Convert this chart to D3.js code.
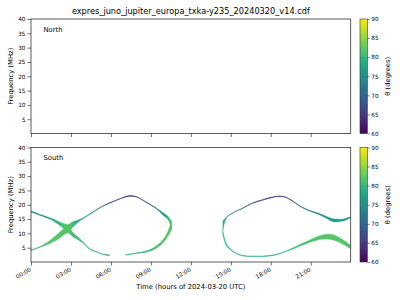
<!DOCTYPE html>
<html>
<head>
<meta charset="utf-8">
<script src="https://cdn.jsdelivr.net/npm/d3@7"></script>
<style>
  body { margin: 0; background: #fff; }
  svg { display: block; font-family: "DejaVu Sans", sans-serif; }
</style>
</head>
<body>
<svg id="chart" width="400" height="300"></svg>
<script>
// Chart text and ticks
const title = "expres_juno_jupiter_europa_txka-y235_20240320_v14.cdf";
const panelNames = ["North", "South"];
const freqTicks = [5, 10, 15, 20, 25, 30, 35, 40];
const hourTicks = [0, 3, 6, 9, 12, 15, 18, 21];
const hourLabels = ["00:00", "03:00", "06:00", "09:00", "12:00", "15:00", "18:00", "21:00"];
const thetaTicks = [60, 65, 70, 75, 80, 85, 90];

// Emission branches, rows are [hour, f low (MHz), f high (MHz), theta (deg)]
// North hemisphere: no emission on this day
const northBranches = [];

// South hemisphere, first loop
const southLoop1UpperIn = [
  [0, 17.5, 17.8, 73], [0.8, 16.1, 16.4, 74], [1.6, 14.6, 15.1, 77],
  [2.15, 12.8, 14.0, 80], [2.5, 11.5, 13.4, 82], [2.8, 10.3, 13.0, 82]
];
const southLoop1LowerIn = [
  [0, 4.0, 4.3, 80], [0.8, 5.3, 5.7, 81], [1.5, 6.6, 7.8, 82],
  [2.15, 8.4, 10.4, 82], [2.5, 9.6, 11.8, 82], [2.8, 10.3, 13.0, 82]
];
const southLoop1UpperOut = [
  [2.8, 10.3, 13.0, 82], [3.1, 12.0, 14.0, 81], [3.5, 13.8, 14.6, 78],
  [3.9, 15.1, 15.4, 76], [4.6, 17.2, 17.4, 73], [5.3, 19.2, 19.4, 70],
  [6.1, 20.9, 21.1, 67], [6.8, 22.2, 22.4, 65], [7.45, 23.0, 23.2, 62],
  [7.9, 22.7, 22.9, 64], [8.6, 20.9, 21.1, 68], [9.4, 18.6, 18.9, 72],
  [10.0, 16.0, 16.9, 77], [10.35, 14.3, 15.6, 81], [10.55, 11.3, 14.2, 82]
];
const southLoop1LowerOut = [
  [2.8, 10.3, 13.0, 82], [3.1, 9.0, 10.6, 81], [3.5, 7.9, 8.8, 80],
  [3.9, 6.6, 7.0, 80], [4.3, 4.8, 5.1, 80], [4.95, 3.4, 3.6, 79],
  [5.6, 2.4, 2.6, 79], [5.9, 2.3, 2.5, 79]
];
const southLoop1LowerBack = [
  [7.1, 2.4, 2.6, 79], [7.8, 2.9, 3.1, 79], [8.6, 3.4, 3.8, 80],
  [9.4, 4.8, 5.6, 81], [9.9, 6.6, 7.8, 82], [10.25, 8.8, 10.4, 82],
  [10.55, 11.3, 14.2, 82]
];

// South hemisphere, second loop
const southLoop2Upper = [
  [14.4, 11.0, 14.3, 80], [14.6, 14.8, 15.4, 76], [15.1, 16.9, 17.1, 73],
  [15.9, 18.7, 18.9, 70], [16.6, 20.4, 20.6, 68], [17.4, 21.6, 21.8, 65],
  [18.0, 22.4, 22.6, 63], [18.6, 22.9, 23.1, 62], [19.0, 22.7, 22.9, 64],
  [19.5, 21.6, 21.8, 66], [20.2, 19.4, 19.6, 70], [20.9, 17.8, 18.1, 72],
  [21.6, 16.6, 17.0, 74], [22.1, 15.5, 16.1, 75], [22.8, 14.0, 15.0, 76],
  [23.3, 14.2, 14.9, 76], [23.9, 15.2, 15.6, 75], [24, 15.4, 15.7, 75]
];
const southLoop2Lower = [
  [14.4, 9.4, 11.0, 81], [14.6, 6.3, 7.2, 80], [15.0, 4.2, 4.5, 80],
  [15.6, 2.5, 2.7, 79], [16.35, 1.9, 2.1, 79], [17.4, 1.9, 2.1, 79],
  [18.2, 2.3, 2.5, 79], [19.4, 4.1, 4.4, 80], [20.3, 5.8, 6.4, 81],
  [20.9, 6.8, 7.6, 82], [21.5, 7.7, 8.9, 82], [22.1, 8.0, 9.6, 82],
  [22.5, 7.9, 9.7, 82], [23.0, 7.2, 8.9, 82], [23.5, 6.0, 7.5, 82],
  [24, 4.6, 5.8, 82]
];

const southBranches = [
  southLoop1UpperIn, southLoop1LowerIn, southLoop1UpperOut,
  southLoop1LowerOut, southLoop1LowerBack, southLoop2Upper, southLoop2Lower
];

// Layout
const plotLeft = 31, plotRight = 350.7;
const panels = [
  { name: panelNames[0], top: 19, bottom: 133.5, branches: northBranches },
  { name: panelNames[1], top: 147.5, bottom: 262, branches: southBranches }
];
const cbLeft = 360, cbWidth = 7.3;

const svg = d3.select("#chart");
const defs = svg.append("defs");

const x = d3.scaleLinear().domain([0, 24]).range([plotLeft, plotRight]);
const color = d3.scaleSequential(d3.interpolateViridis).domain([60, 90]);

// Title
svg.append("text")
    .attr("x", (plotLeft + plotRight) / 2)
    .attr("y", 13.5)
    .attr("text-anchor", "middle")
    .attr("font-size", 8.2)
    .text(title);

// Colorbar gradient (shared by both bars)
const cbGrad = defs.append("linearGradient")
    .attr("id", "cb-grad")
    .attr("x1", 0).attr("y1", 1).attr("x2", 0).attr("y2", 0);
d3.range(0, 1.0001, 0.05).forEach(o => {
  cbGrad.append("stop").attr("offset", o).attr("stop-color", d3.interpolateViridis(o));
});

panels.forEach((p, pi) => {
  const y = d3.scaleLinear().domain([0, 40]).range([p.bottom, p.top]);
  const h = p.bottom - p.top;

  defs.append("clipPath").attr("id", "clip" + pi)
    .append("rect")
      .attr("x", plotLeft).attr("y", p.top)
      .attr("width", plotRight - plotLeft).attr("height", h);

  const g = svg.append("g").attr("clip-path", `url(#clip${pi})`);

  const area = d3.area()
      .x(d => x(d[0]))
      .y0(d => y(d[1]))
      .y1(d => y(d[2]))
      .curve(d3.curveMonotoneX);

  p.branches.forEach((b, bi) => {
    const id = `grad-${pi}-${bi}`;
    const x0 = x(b[0][0]), x1 = x(b[b.length - 1][0]);
    const grad = defs.append("linearGradient")
        .attr("id", id)
        .attr("gradientUnits", "userSpaceOnUse")
        .attr("x1", x0).attr("x2", x1).attr("y1", 0).attr("y2", 0);
    b.forEach(d => {
      grad.append("stop")
          .attr("offset", (x(d[0]) - x0) / (x1 - x0))
          .attr("stop-color", color(d[3]));
    });
    g.append("path")
        .datum(b)
        .attr("d", area)
        .attr("fill", `url(#${id})`)
        .attr("stroke", `url(#${id})`)
        .attr("stroke-width", 0.45);
  });

  // y axis
  const yAxis = svg.append("g")
      .attr("transform", `translate(${plotLeft},0)`)
      .call(d3.axisLeft(y).tickValues(freqTicks).tickSize(3.5).tickPadding(2));
  yAxis.select(".domain").remove();
  yAxis.selectAll("text").attr("font-size", 5.7).attr("font-family", "DejaVu Sans").attr("fill", "#000");
  yAxis.selectAll("line").attr("stroke", "#333").attr("stroke-width", 0.7);

  // x axis
  const xAxis = svg.append("g")
      .attr("transform", `translate(0,${p.bottom})`)
      .call(d3.axisBottom(x).tickValues(hourTicks)
        .tickFormat((d, i) => pi === 1 ? hourLabels[i] : "")
        .tickSize(3.5));
  xAxis.select(".domain").remove();
  xAxis.selectAll("line").attr("stroke", "#333").attr("stroke-width", 0.7);
  xAxis.selectAll("text")
      .attr("font-size", 5.7)
      .attr("font-family", "DejaVu Sans")
      .attr("fill", "#000")
      .attr("text-anchor", "end")
      .attr("x", 0).attr("y", 0).attr("dy", "0.35em")
      .attr("transform", "translate(-1,7) rotate(-30)");

  // frame
  svg.append("rect")
      .attr("x", plotLeft).attr("y", p.top)
      .attr("width", plotRight - plotLeft).attr("height", h)
      .attr("fill", "none").attr("stroke", "#333").attr("stroke-width", 0.8);

  // y label
  svg.append("text")
      .attr("transform", `translate(10.5,${p.top + h / 2}) rotate(-90)`)
      .attr("text-anchor", "middle")
      .attr("dy", "0.35em")
      .attr("font-size", 6.8)
      .text("Frequency (MHz)");

  // panel name
  svg.append("text")
      .attr("x", 43.5).attr("y", p.top + 12.5)
      .attr("font-size", 6.8)
      .text(p.name);

  // colorbar
  const cbScale = d3.scaleLinear().domain([60, 90]).range([p.bottom, p.top]);
  svg.append("rect")
      .attr("x", cbLeft).attr("y", p.top)
      .attr("width", cbWidth).attr("height", h)
      .attr("fill", "url(#cb-grad)")
      .attr("stroke", "#333").attr("stroke-width", 0.6);
  const cbAxis = svg.append("g")
      .attr("transform", `translate(${cbLeft + cbWidth},0)`)
      .call(d3.axisRight(cbScale).tickValues(thetaTicks).tickSize(2.5).tickPadding(1.5));
  cbAxis.select(".domain").remove();
  cbAxis.selectAll("text").attr("font-size", 5.7).attr("font-family", "DejaVu Sans").attr("fill", "#000");
  cbAxis.selectAll("line").attr("stroke", "#333").attr("stroke-width", 0.6);

  svg.append("text")
      .attr("transform", `translate(388,${p.top + h / 2}) rotate(-90)`)
      .attr("text-anchor", "middle")
      .attr("dy", "0.35em")
      .attr("font-size", 6.8)
      .text("θ (degrees)");
});

// x label
svg.append("text")
    .attr("x", (plotLeft + plotRight) / 2)
    .attr("y", 288.5)
    .attr("text-anchor", "middle")
    .attr("font-size", 6.8)
    .text("Time (hours of 2024-03-20 UTC)");
</script>
</body>
</html>
